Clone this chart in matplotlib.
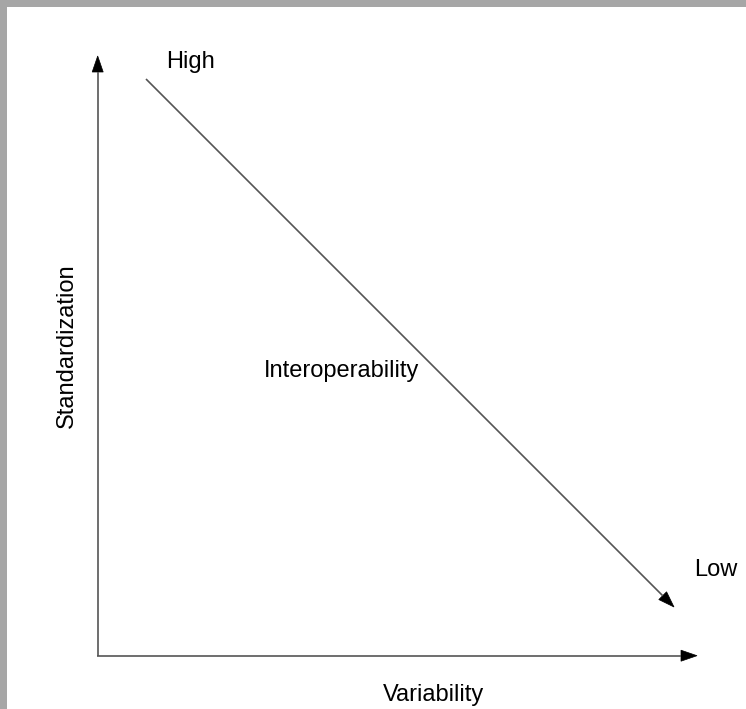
import matplotlib
matplotlib.use("Agg")
import matplotlib.pyplot as plt
from matplotlib.patches import Rectangle

plt.rcParams['font.family'] = ['Liberation Sans', 'DejaVu Sans']

# Labels of the conceptual diagram
x_label = "Variability"
y_label = "Standardization"
trend_label = "Interoperability"
end_labels = ["High", "Low"]

W, H = 746, 709
fig = plt.figure(figsize=(W / 100, H / 100), dpi=100)
ax = fig.add_axes([0, 0, 1, 1])
ax.set_xlim(0, W)
ax.set_ylim(H, 0)
ax.axis('off')

# gray frame on top and left
ax.add_patch(Rectangle((0, 0), W, 7, color='#a6a6a6', lw=0))
ax.add_patch(Rectangle((0, 0), 7, H, color='#a6a6a6', lw=0))

line_col = '#555555'
lw = 1.2

def arrow(x0, y0, x1, y1, hl=16, hw=11):
    import numpy as np
    d = np.array([x1 - x0, y1 - y0], float)
    L = np.hypot(*d)
    u = d / L
    n = np.array([-u[1], u[0]])
    base = np.array([x1, y1]) - u * hl
    ax.plot([x0, base[0]], [y0, base[1]], color=line_col, lw=lw, solid_capstyle='butt')
    pts = [(x1, y1), tuple(base + n * hw / 2), tuple(base - n * hw / 2)]
    ax.add_patch(plt.Polygon(pts, closed=True, fc='black', ec='black', lw=0.5))

# axes
arrow(97.7, 656, 97.7, 56)
arrow(97, 655.7, 697, 655.7)
# diagonal
arrow(146, 79, 674, 607)

fs = 17
ax.text(190, 68, end_labels[0], fontsize=fs, ha='center', va='baseline')
ax.text(716, 576, end_labels[1], fontsize=fs, ha='center', va='baseline')
ax.text(342, 377, trend_label, fontsize=fs, ha='center', va='baseline')
ax.text(433.5, 701, x_label, fontsize=fs, ha='center', va='baseline')
ax.text(73, 346, y_label, fontsize=fs, ha='center', va='baseline',
        rotation=90, rotation_mode='anchor')

fig.savefig('out.png', dpi=100)
